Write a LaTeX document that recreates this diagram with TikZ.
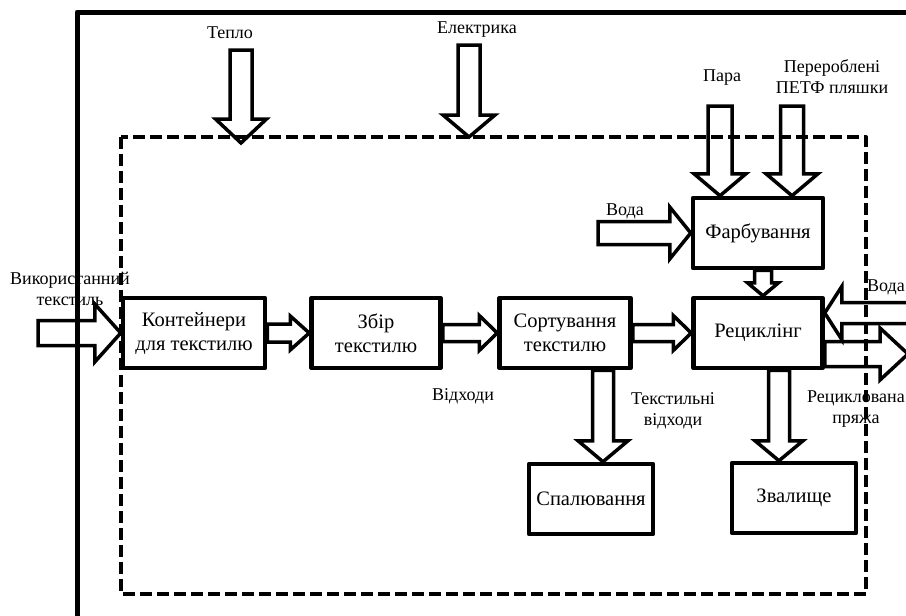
\documentclass[tikz,border=0pt]{standalone}
\usepackage{fontspec}
\setmainfont{Liberation Serif}
\usetikzlibrary{calc}
\tikzset{
	blok/.style={draw, line width=4.5pt, align=center, inner sep=2pt, minimum height=70, font=\fontsize{20.5}{24}\selectfont},
	mitka/.style={align=center, inner sep=1pt, font=\fontsize{18}{21}\selectfont},
	strilka/.style={draw, line width=3.5pt, line join=miter},
}
\newcommand{\barrow}[5]{%
	\path ($(#2)!#5pt!(#1)$) coordinate (hb);
	\draw[strilka] ($(#1)!#3pt!90:(#2)$) -- ($(hb)!#3pt!90:(#2)$) -- ($(hb)!#4pt!90:(#2)$) -- (#2)
		-- ($(hb)!#4pt!-90:(#2)$) -- ($(hb)!#3pt!-90:(#2)$) -- ($(#1)!#3pt!-90:(#2)$) -- cycle;}
\begin{document}
\begin{tikzpicture}[x=1pt, y=-1pt, line join=round]
	\useasboundingbox (0,0) rectangle (906,616);
	\draw[line width=5pt] (77,625)--(77,12)--(915,12);
	\draw[line width=4pt, dash pattern=on 12pt off 5pt] (121,137) rectangle (866,594);
	
	\node[blok, minimum width=142] (cont) at (194,333) {Контейнери\\для текстилю};
	\node[blok, minimum width=129] (zbir) at (376,333) {Збір\\текстилю};
	\node[blok, minimum width=131] (sort) at (565,333) {Сортування\\текстилю};
	\node[blok, minimum width=129] (recyc) at (758,333) {Рециклінг};
	\node[blok, minimum width=130] (farb) at (758,233) {Фарбування};
	\node[blok, minimum width=124] (spal) at (591,499) {Спалювання};
	\node[blok, minimum width=124] (zval) at (794,498) {Звалище};
	
	\node[mitka] (teplo) at (230,33) {Тепло};
	\node[mitka] (elek) at (477,30) {Електрика};
	\node[mitka] (para) at (722,78) {Пара};
	\node[mitka] (petf) at (832,77) {Перероблені\\ПЕТФ пляшки};
	\node[mitka] (voda) at (625,211) {Вода};
	\node[mitka, anchor=west] (vodar) at (866,287) {Вода};
	\node[mitka] (pryazha) at (856,409) {Рециклована\\пряжа};
	\node[mitka] (tvidh) at (673,411) {Текстильні\\відходи};
	\node[mitka] (vidh) at (463,396) {Відходи};
	\node[mitka] (vtekst) at (70,289) {Використанний\\текстиль};
	
	\path (241,50) coordinate (t1) (241,143) coordinate (t2)
		(469,45) coordinate (e1) (469,137) coordinate (e2)
		(720,106) coordinate (p1) ([xshift=-38pt]farb.north) coordinate (p2)
		(792,106) coordinate (f1) ([xshift=34pt]farb.north) coordinate (f2)
		(598,233) coordinate (v1)
		(38,333) coordinate (k1)
		([xshift=5pt]farb.south) coordinate (fr1) ([xshift=5pt]recyc.north) coordinate (fr2)
		([xshift=38pt]sort.south) coordinate (s1) (s1 |- spal.north) coordinate (s2)
		([xshift=21pt]recyc.south) coordinate (r1) (r1 |- zval.north) coordinate (r2)
		(recyc.east) ++(0,-20) coordinate (w2) (916,313) coordinate (w1)
		(recyc.east) ++(0,21) coordinate (y1) (908,354) coordinate (y2)
		;
	\foreach \sa/\sb/\sw/\hw/\hl in {t1/t2/11/25.5/24, e1/e2/11/26/22, p1/p2/12/26/22, f1/f2/11.5/26/22,
		v1/farb.west/11.5/26/21, fr1/fr2/8.5/15.5/13, k1/cont.west/12.5/29/26,
		cont.east/zbir.west/9/17/19, zbir.east/sort.west/8.5/17.5/18, sort.east/recyc.west/8.5/17.5/18,
		s1/s2/10.5/25/21, r1/r2/10.5/24/20, w1/w2/10.5/26.5/17, y1/y2/12.5/26/28}{
		\barrow{\sa}{\sb}{\sw}{\hw}{\hl}
	}
\end{tikzpicture}
\end{document}
